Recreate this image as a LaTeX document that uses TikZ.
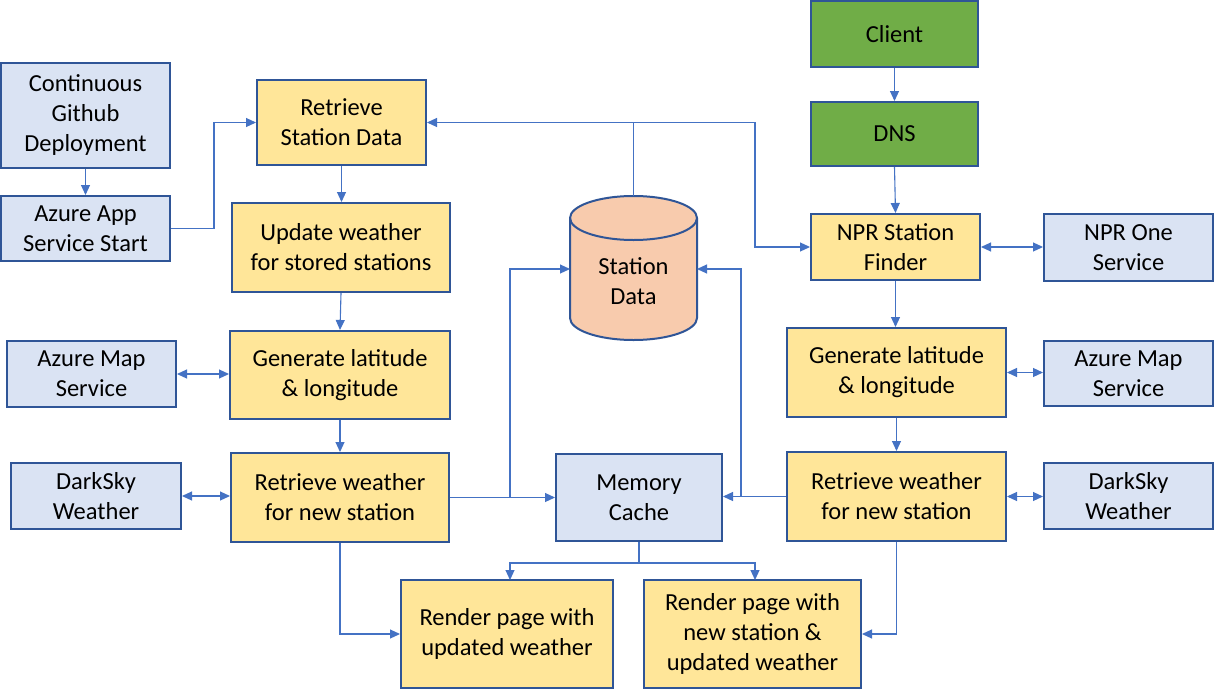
\documentclass[tikz,border=0pt]{standalone}
\usepackage{fontspec}
\setmainfont{Carlito}
\usetikzlibrary{arrows.meta,calc}
\definecolor{ylw}{HTML}{FFE699}
\definecolor{lbl}{HTML}{DAE3F3}
\definecolor{grn}{HTML}{70AD47}
\definecolor{org}{HTML}{F8CBAD}
\definecolor{bdr}{HTML}{2F5597}
\definecolor{cn}{HTML}{4472C4}
\tikzset{
  box/.style={draw=bdr, line width=2pt, align=center, inner sep=0pt, font=\fontsize{24.5}{30}\selectfont},
  ybox/.style={box, fill=ylw},
  bbox/.style={box, fill=lbl},
  gbox/.style={box, fill=grn},
  conn/.style={draw=cn, line width=1.1pt, -{Triangle[length=10pt,width=9pt]}},
  dconn/.style={draw=cn, line width=1.1pt, {Triangle[length=10pt,width=9pt]}-{Triangle[length=10pt,width=9pt]}},
  plain/.style={draw=cn, line width=1.1pt}
}
\begin{document}
\begin{tikzpicture}[x=1pt,y=-1pt]
\useasboundingbox[fill=white] (0,0) rectangle (1215,696);
% nodes
\node[bbox, minimum width=169, minimum height=105] (cgd) at (85.5,115.5) {Continuous\\Github\\Deployment};
\node[bbox, minimum width=169, minimum height=65] (aas) at (85.5,228.5) {Azure App\\Service Start};
\node[ybox, minimum width=169, minimum height=85] (rsd) at (341.5,122.5) {Retrieve\\Station Data};
\node[ybox, minimum width=218, minimum height=89] (uws) at (341,247.5) {Update weather\\for stored stations};
\node[ybox, minimum width=220, minimum height=88] (gll) at (340,375) {Generate latitude\\\& longitude};
\node[bbox, minimum width=169, minimum height=66] (ams) at (91.5,374) {Azure Map\\Service};
\node[bbox, minimum width=170, minimum height=66] (dsl) at (96,496) {DarkSky\\Weather};
\node[ybox, minimum width=218, minimum height=89] (rwl) at (340,497.5) {Retrieve weather\\for new station};
\node[bbox, minimum width=166, minimum height=87] (mc) at (639,497.5) {Memory\\Cache};
\node[ybox, minimum width=212, minimum height=108] (rpu) at (507,634) {Render page with\\updated weather};
\node[ybox, minimum width=217, minimum height=108] (rpn) at (752.5,634) {Render page with\\new station \&\\updated weather};
\node[gbox, minimum width=167, minimum height=66] (client) at (894.5,34) {Client};
\node[gbox, minimum width=167, minimum height=64] (dns) at (894.5,134) {DNS};
\node[ybox, minimum width=169, minimum height=66] (npr) at (895.5,247) {NPR Station\\Finder};
\node[bbox, minimum width=169, minimum height=67] (npro) at (1128.5,247.5) {NPR One\\Service};
\node[ybox, minimum width=219, minimum height=89] (glr) at (896.5,372.5) {Generate latitude\\\& longitude};
\node[bbox, minimum width=169, minimum height=65] (amr) at (1128.5,373.5) {Azure Map\\Service};
\node[ybox, minimum width=219, minimum height=89] (rwr) at (896.5,496.5) {Retrieve weather\\for new station};
\node[bbox, minimum width=169, minimum height=66] (dsr) at (1128.5,496) {DarkSky\\Weather};
% cylinder
\filldraw[fill=org, draw=bdr, line width=2pt] (570,218) -- (570,318)
  .. controls (570,330.15) and (598.43,340) .. (633.5,340)
  .. controls (668.57,340) and (697,330.15) .. (697,318) -- (697,218)
  .. controls (697,205.85) and (668.57,196) .. (633.5,196)
  .. controls (598.43,196) and (570,205.85) .. (570,218) -- cycle;
\draw[draw=bdr, line width=2pt] (570,218)
  .. controls (570,230.15) and (598.43,240) .. (633.5,240)
  .. controls (668.57,240) and (697,230.15) .. (697,218);
\node[box, draw=none] (sd) at (633.5,281) {Station\\Data};
\coordinate (cyltop) at (633.5,196);
\coordinate (cylL) at (570,269);
\coordinate (cylR) at (697,269);
% connectors
\draw[conn] (cgd) -- (aas);
\draw[conn] (aas.east) -- ++(43,0) |- (rsd.west);
\draw[conn] (rsd.south) -- (rsd.south |- uws.north);
\draw[conn] (uws.south) -- (gll.north);
\draw[conn] (gll.south) -- (gll.south |- rwl.north);
\draw[dconn] (ams.east) -- (ams.east -| gll.west);
\draw[dconn] (dsl.east) -- (dsl.east -| rwl.west);
\coordinate (j1) at (cyltop |- rsd.east);
\coordinate (j2) at (755,122.5);
\draw[plain] (cyltop) -- (j1);
\draw[conn] (j1) -- (rsd.east);
\draw[conn] (j1) -- (j2) |- (npr.west);
\draw[conn] (rwl.east) -- (rwl.east -| mc.west);
\coordinate (b1) at (510,497.5);
\draw[conn] (b1) |- (cylL);
\draw[conn] (rwr.west) -- (rwr.west -| mc.east);
\coordinate (b2) at (741,496.5);
\draw[conn] (b2) |- (cylR);
\coordinate (m1) at (639,563);
\draw[plain] (mc.south) -- (m1);
\draw[conn] (m1) -| (510,580);
\draw[conn] (m1) -| (755,580);
\draw[conn] (rwl.south) |- (rpu.west);
\draw[conn] (rwr.south) |- (rpn.east);
\draw[conn] (client) -- (dns);
\draw[conn] (dns.south) -- (npr.north);
\draw[dconn] (npr.east) -- (npr.east -| npro.west);
\draw[conn] (npr.south) -- (npr.south |- glr.north);
\draw[conn] (glr) -- (rwr);
\draw[dconn] (glr.east) -- (glr.east -| amr.west);
\draw[dconn] (rwr.east) -- (rwr.east -| dsr.west);
\end{tikzpicture}
\end{document}
